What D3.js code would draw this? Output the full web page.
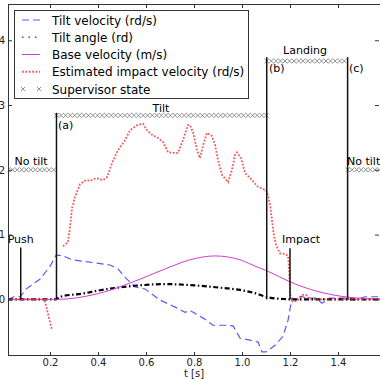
<!DOCTYPE html>
<html>
<head>
<meta charset="utf-8">
<script src="https://cdn.jsdelivr.net/npm/d3@7/dist/d3.min.js"></script>
<style>
  html, body { margin: 0; padding: 0; background: #fff; }
  svg { display: block; font-family: "DejaVu Sans", sans-serif; }
</style>
</head>
<body>
<div id="chart"></div>
<script>
// [t (s), value] pairs
const tiltVelocity = [
  [0.025, 0.0], [0.05, 0.04], [0.075, 0.04], [0.104, 0.17], [0.158, 0.31], [0.2, 0.51],
  [0.225, 0.68], [0.25, 0.68], [0.292, 0.61], [0.396, 0.56], [0.45, 0.53], [0.483, 0.47],
  [0.513, 0.34], [0.554, 0.19], [0.596, 0.16], [0.658, -0.01], [0.721, -0.12], [0.763, -0.2],
  [0.783, -0.17], [0.838, -0.29], [0.879, -0.40], [0.929, -0.40], [0.963, -0.41], [0.992, -0.6],
  [1.033, -0.63], [1.067, -0.66], [1.083, -0.81], [1.1, -0.81], [1.138, -0.71], [1.171, -0.57],
  [1.192, -0.32], [1.208, 0.02], [1.225, -0.01], [1.246, 0.05], [1.267, 0.02], [1.308, 0.02],
  [1.333, -0.06], [1.367, 0.02], [1.429, 0.02], [1.471, -0.01], [1.513, 0.04], [1.575, 0.04]
];

const tiltAngle = [
  [0.025, 0], [0.225, 0], [0.242, 0.04], [0.338, 0.09], [0.408, 0.14], [0.504, 0.19],
  [0.588, 0.22], [0.679, 0.235], [0.783, 0.22], [0.921, 0.175], [0.992, 0.145], [1.063, 0.085],
  [1.104, 0.035], [1.171, 0.005], [1.2, 0], [1.575, 0]
];

const baseVelocity = [
  [0.025, 0], [0.225, 0], [0.283, 0.01], [0.354, 0.05], [0.45, 0.14], [0.533, 0.25],
  [0.617, 0.375], [0.7, 0.5], [0.783, 0.61], [0.888, 0.67], [0.992, 0.61], [1.063, 0.5],
  [1.104, 0.44], [1.2, 0.27], [1.271, 0.17], [1.338, 0.1], [1.438, 0.035], [1.575, 0.005]
];

// null = gap in the estimate
const impactVelocity = [
  [0.025, 0], [0.175, 0], [0.183, -0.09], [0.196, -0.29], [0.208, -0.47], null,
  [0.254, 0.82], [0.275, 0.88], [0.283, 1.10], [0.292, 1.41], [0.304, 1.58], [0.325, 1.78],
  [0.35, 1.84], [0.367, 1.83], [0.392, 1.87], [0.421, 1.84], [0.438, 1.89], [0.458, 2.10],
  [0.483, 2.30], [0.513, 2.46], [0.533, 2.61], [0.563, 2.69], [0.588, 2.71], [0.604, 2.61],
  [0.625, 2.54], [0.65, 2.49], [0.671, 2.43], [0.692, 2.27], [0.713, 2.26], [0.733, 2.26],
  [0.754, 2.46], [0.775, 2.69], [0.783, 2.69], [0.796, 2.58], [0.813, 2.30], [0.825, 2.18],
  [0.838, 2.38], [0.854, 2.57], [0.875, 2.52], [0.888, 2.38], [0.9, 2.15], [0.917, 1.92],
  [0.942, 1.81], [0.958, 2.0], [0.971, 2.23], [0.979, 2.27], [0.996, 2.18], [1.013, 1.95],
  [1.042, 1.84], [1.063, 1.75], [1.088, 1.70], [1.1, 1.69], [1.108, 1.61], [1.117, 1.46],
  [1.125, 1.22], [1.133, 0.99], [1.142, 0.84], [1.158, 0.71], [1.179, 0.70], [1.192, 0.67],
  [1.196, 0.48], [1.2, 0.14], [1.204, -0.01], [1.213, -0.04], [1.233, -0.01], [1.254, 0.07],
  [1.267, 0.07], [1.283, 0], [1.575, 0]
];

// supervisor state: [start, end, level]
const supervisorStates = [
  [0.025, 0.227, 2.0], [0.227, 1.103, 2.84], [1.103, 1.44, 3.68], [1.44, 1.575, 2.0]
];

// event markers: [t, top of line]
const events = [[0.078, 0.8], [0.227, 2.88], [1.103, 3.74], [1.2, 0.79], [1.44, 3.74]];

// annotations: [text, t, value, anchor]
const annotations = [
  ["Push", 0.078, 0.87, "middle"],
  ["Impact", 1.167, 0.87, "start"],
  ["No tilt", 0.121, 2.08, "middle"],
  ["No tilt", 1.4375, 2.08, "start"],
  ["Tilt", 0.6625, 2.89, "middle"],
  ["Landing", 1.2625, 3.79, "middle"],
  ["(a)", 0.233, 2.63, "start"],
  ["(b)", 1.1125, 3.51, "start"],
  ["(c)", 1.446, 3.51, "start"]
];

const xTicks = [0.2, 0.4, 0.6, 0.8, 1.0, 1.2, 1.4];
const yTicks = [0, 1, 2, 3, 4];
const legendLabels = ["Tilt velocity (rd/s)", "Tilt angle (rd)", "Base velocity (m/s)",
  "Estimated impact velocity (rd/s)", "Supervisor state"];

const width = 380, height = 381;
const plot = {left: 8, right: 380, top: 4, bottom: 356};

const svg = d3.select("#chart").append("svg")
  .attr("width", width)
  .attr("height", height);

const x = d3.scaleLinear().domain([0.025, 1.575]).range([plot.left, plot.right]);
const y = d3.scaleLinear().domain([-0.875, 4.56]).range([plot.bottom, plot.top]);

svg.append("clipPath").attr("id", "clip")
  .append("rect")
  .attr("x", plot.left).attr("y", plot.top)
  .attr("width", plot.right - plot.left).attr("height", plot.bottom - plot.top);

const g = svg.append("g").attr("clip-path", "url(#clip)");

const line = d3.line()
  .defined(d => d !== null)
  .x(d => x(d[0]))
  .y(d => y(d[1]));

const smooth = d3.line()
  .x(d => x(d[0]))
  .y(d => y(d[1]))
  .curve(d3.curveMonotoneX);

// Tilt velocity
g.append("path")
  .attr("d", line(tiltVelocity))
  .attr("fill", "none")
  .attr("stroke", "#3b3bff")
  .attr("stroke-opacity", 0.85)
  .attr("stroke-width", 1.2)
  .attr("stroke-dasharray", "7,4");

// Tilt angle
g.append("path")
  .attr("d", smooth(tiltAngle))
  .attr("fill", "none")
  .attr("stroke", "#000")
  .attr("stroke-width", 2.2)
  .attr("stroke-dasharray", "5,2.5,1.5,2.5");

// Base velocity
g.append("path")
  .attr("d", smooth(baseVelocity))
  .attr("fill", "none")
  .attr("stroke", "#d23cd2")
  .attr("stroke-width", 1);

// Estimated impact velocity
g.append("path")
  .attr("d", line(impactVelocity))
  .attr("fill", "none")
  .attr("stroke", "#f03030")
  .attr("stroke-opacity", 0.8)
  .attr("stroke-width", 1.8)
  .attr("stroke-dasharray", "1.8,1.6");

// Supervisor state markers
const markerStep = 0.019;
supervisorStates.forEach(s => {
  const pts = d3.range(s[0], s[1], markerStep);
  g.append("g").selectAll("path")
    .data(pts)
    .join("path")
    .attr("d", d => {
      const cx = x(d), cy = y(s[2]), r = 2.3;
      return `M${cx - r},${cy - r}L${cx + r},${cy + r}M${cx - r},${cy + r}L${cx + r},${cy - r}`;
    })
    .attr("stroke", "#777")
    .attr("stroke-width", 0.8)
    .attr("fill", "none");
});

// event lines
g.append("g").selectAll("line")
  .data(events)
  .join("line")
  .attr("x1", d => x(d[0])).attr("x2", d => x(d[0]))
  .attr("y1", y(0)).attr("y2", d => y(d[1]))
  .attr("stroke", "#111")
  .attr("stroke-width", 1.5);

// annotations
svg.append("g").selectAll("text")
  .data(annotations)
  .join("text")
  .attr("x", d => x(d[1]))
  .attr("y", d => y(d[2]))
  .attr("text-anchor", d => d[3])
  .attr("font-size", 11)
  .attr("fill", "#000")
  .text(d => d[0]);

// axes, ticks pointing inward
const axisStyle = sel => {
  sel.select(".domain").remove();
  sel.selectAll(".tick line").attr("stroke", "#333");
  sel.selectAll("text").attr("font-size", 10).attr("font-family", "DejaVu Sans").attr("fill", "#222");
};

svg.append("g")
  .attr("transform", `translate(0,${plot.bottom})`)
  .call(d3.axisBottom(x).tickValues(xTicks).tickFormat(d3.format(".1f")).tickSize(-4).tickPadding(3))
  .call(axisStyle);
svg.append("g")
  .attr("transform", `translate(0,${plot.top})`)
  .call(d3.axisTop(x).tickValues(xTicks).tickFormat("").tickSize(-4))
  .call(axisStyle);
svg.append("g")
  .attr("transform", `translate(${plot.left},0)`)
  .call(d3.axisLeft(y).tickValues(yTicks).tickFormat(d3.format("d")).tickSize(-4).tickPadding(3))
  .call(axisStyle);
svg.append("g")
  .attr("transform", `translate(${plot.right - 1},0)`)
  .call(d3.axisRight(y).tickValues(yTicks).tickFormat("").tickSize(-4))
  .call(axisStyle);

// frame
svg.append("rect")
  .attr("x", plot.left + 0.5).attr("y", plot.top + 0.5)
  .attr("width", plot.right - plot.left).attr("height", plot.bottom - plot.top - 1)
  .attr("fill", "none")
  .attr("stroke", "#333")
  .attr("stroke-width", 1);

svg.append("text")
  .attr("x", (plot.left + plot.right) / 2)
  .attr("y", 377)
  .attr("text-anchor", "middle")
  .attr("font-size", 10)
  .attr("fill", "#222")
  .text("t [s]");

// legend
const legend = svg.append("g");
legend.append("rect")
  .attr("x", 14.5).attr("y", 10.5)
  .attr("width", 234).attr("height", 88)
  .attr("fill", "#fff")
  .attr("stroke", "#333")
  .attr("stroke-width", 1);

const rowY = i => 20 + i * 17.25;
const sampleStyles = [
  {stroke: "#3b3bff", dash: "7,4", w: 1.2, op: 0.85},
  {stroke: "#555", dash: "1.5,5", w: 1.5, op: 1},
  {stroke: "#d23cd2", dash: null, w: 1, op: 1},
  {stroke: "#f03030", dash: "1.8,1.6", w: 1.8, op: 0.8}
];
sampleStyles.forEach((s, i) => {
  legend.append("line")
    .attr("x1", 22).attr("x2", 40)
    .attr("y1", rowY(i)).attr("y2", rowY(i))
    .attr("stroke", s.stroke)
    .attr("stroke-width", s.w)
    .attr("stroke-opacity", s.op)
    .attr("stroke-dasharray", s.dash);
});
[23, 39].forEach(cx => {
  const cy = rowY(4), r = 2;
  legend.append("path")
    .attr("d", `M${cx - r},${cy - r}L${cx + r},${cy + r}M${cx - r},${cy + r}L${cx + r},${cy - r}`)
    .attr("stroke", "#777")
    .attr("stroke-width", 0.8);
});
legend.selectAll("text.lab")
  .data(legendLabels)
  .join("text")
  .attr("class", "lab")
  .attr("x", 52)
  .attr("y", (d, i) => rowY(i) + 4.5)
  .attr("font-size", 12)
  .attr("fill", "#000")
  .text(d => d);
</script>
</body>
</html>
